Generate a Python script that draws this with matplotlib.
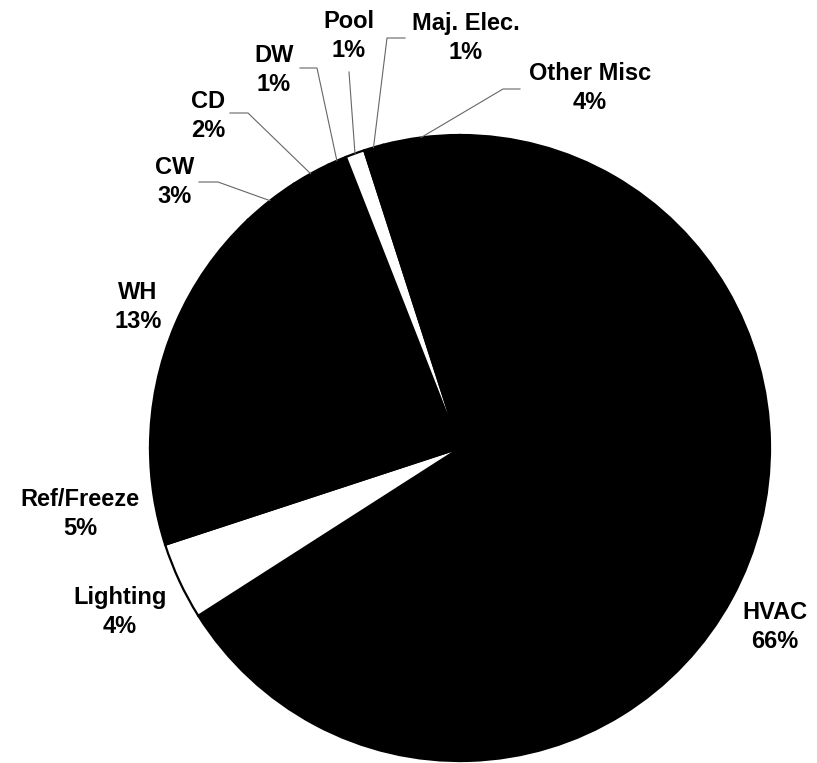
import numpy as np
import matplotlib
matplotlib.use("Agg")
import matplotlib.pyplot as plt

# End-use shares (percent), clockwise from 12 o'clock
categories = ["HVAC", "Lighting", "Ref/Freeze", "WH", "CW", "CD", "DW",
              "Pool", "Maj. Elec.", "Other Misc"]
shares = [66, 4, 5, 13, 3, 2, 1, 1, 1, 4]
fills = ["black", "white", "black", "black", "black", "black", "black",
         "white", "black", "black"]

plt.rcParams["font.family"] = ["Liberation Sans", "DejaVu Sans"]

W, H = 817, 763
fig = plt.figure(figsize=(W / 100, H / 100), dpi=100)
fig.patch.set_facecolor("white")

# pie centre and radii in pixels (from top-left)
CX, CY, RX, RY = 460, 448, 310, 313
ax = fig.add_axes([(CX - RX) / W, (H - CY - RY) / H, 2 * RX / W, 2 * RY / H])

wedges, _ = ax.pie(shares, colors=fills, startangle=90, counterclock=False,
                   wedgeprops=dict(edgecolor="black", linewidth=1.6))
ax.set_aspect("auto")
ax.set_xlim(-1, 1)
ax.set_ylim(-1, 1)
ax.axis("off")


def px(x, y):
    """pixel position (top-left origin) -> pie data coordinates"""
    return (x - CX) / RX, (CY - y) / RY


def mid_point(i, r=1.0):
    w = wedges[i]
    a = np.deg2rad((w.theta1 + w.theta2) / 2)
    return r * np.cos(a), r * np.sin(a)


# label placement (pixel coords of text block centre)
label_pos = {
    "HVAC": (775, 627),
    "Lighting": (120, 612),
    "Ref/Freeze": (80, 514),
    "WH": (138, 307),
    "CW": (175, 182),
    "CD": (208, 116),
    "DW": (274, 70),
    "Pool": (349, 36),
    "Maj. Elec.": (466, 38),
    "Other Misc": (590, 88),
}

# leader lines: label-side start and elbow, in pixels
leaders = {
    "CW": [(199, 182), (218, 182)],
    "CD": [(230, 113), (248, 113)],
    "DW": [(300, 68), (317, 68)],
    "Pool": [(349, 72)],
    "Maj. Elec.": [(405, 38), (387, 38)],
    "Other Misc": [(520, 89), (503, 89)],
}

for i, (name, val) in enumerate(zip(categories, shares)):
    x, y = px(*label_pos[name])
    ax.text(x, y, f"{name}\n{val}%", ha="center", va="center",
            fontsize=17, fontweight="bold", linespacing=1.38,
            clip_on=False)
    if name in leaders:
        pts = [px(*p) for p in leaders[name]] + [mid_point(i)]
        xs, ys = zip(*pts)
        ax.plot(xs, ys, color="#666666", lw=0.8, clip_on=False)

fig.savefig("out.png", dpi=100, facecolor="white")
